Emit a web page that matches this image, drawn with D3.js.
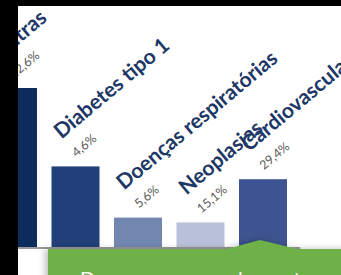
<!DOCTYPE html>
<html>
<head>
<meta charset="utf-8">
<script src="https://cdn.jsdelivr.net/npm/d3@7"></script>
<style>
  body { margin: 0; background: #000; }
  svg { display: block; }
</style>
</head>
<body>
<div id="graph"></div>
<script>
// DATA
var categories = ['Outras', 'Diabetes tipo 1', 'Doenças respiratórias', 'Neoplasias', 'Cardiovasculares']
var values = [100, 51, 19, 16, 43]
var percentLabels = ['12,6%', '4,6%', '5,6%', '15,1%', '29,4%']
var barColors = ['#0c2c5e', '#213f78', '#7287b0', '#b9c1da', '#3e5490']

var W = 341, H = 275
var angle = -40

var svg = d3.select('#graph')
  .append('svg')
  .attr('width', W)
  .attr('height', H)

var defs = svg.append('defs')
defs.append('clipPath').attr('id', 'slide')
  .append('rect').attr('x', 18).attr('y', 6).attr('width', W - 18).attr('height', H - 6)

var shadow = defs.append('filter').attr('id', 'shadow')
  .attr('x', '-10%').attr('y', '-20%').attr('width', '120%').attr('height', '140%')
shadow.append('feDropShadow')
  .attr('dx', -3).attr('dy', 0).attr('stdDeviation', 3)
  .attr('flood-color', '#000').attr('flood-opacity', 0.25)

// WHITE SLIDE, CROPPED BY THE BLACK EDGE
var slide = svg.append('g').attr('clip-path', 'url(#slide)')
slide.append('rect').attr('x', 18).attr('y', 6).attr('width', W).attr('height', H).attr('fill', '#fff')

// SCALES
var x = d3.scaleBand()
  .domain(categories)
  .range([-18.25, 294.25])
  .paddingInner(0.232)
  .paddingOuter(0.116)

var y = d3.scaleLinear()
  .domain([0, 100])
  .range([248, 88])

// BARS
slide.selectAll('rect.bar')
  .data(categories)
  .enter()
  .append('rect')
  .attr('class', 'bar')
  .attr('x', d => x(d))
  .attr('y', (d, i) => y(values[i]))
  .attr('width', x.bandwidth())
  .attr('height', (d, i) => y(0) - y(values[i]))
  .attr('fill', (d, i) => barColors[i])

// BASELINE
slide.append('line')
  .attr('x1', x.range()[0]).attr('x2', x.range()[1] + 6)
  .attr('y1', y(0)).attr('y2', y(0))
  .attr('stroke', '#9a9a9a').attr('stroke-width', 2)

// CATEGORY NAMES (ROTATED)
slide.selectAll('text.name')
  .data(categories)
  .enter()
  .append('text')
  .attr('class', 'name')
  .attr('transform', (d, i) => 'translate(' + (x(d) + 10) + ',' + (y(values[i]) - 27) + ') rotate(' + angle + ')')
  .attr('font-family', 'Lato, "Open Sans", sans-serif')
  .attr('font-weight', 'bold')
  .attr('font-size', 21)
  .attr('fill', '#1d3767')
  .text(d => d)

// PERCENTAGES
slide.selectAll('text.pct')
  .data(categories)
  .enter()
  .append('text')
  .attr('class', 'pct')
  .attr('transform', (d, i) => 'translate(' + (x(d) + 25) + ',' + (y(values[i]) - 9) + ') rotate(' + angle + ')')
  .attr('font-family', 'Lato, "Open Sans", sans-serif')
  .attr('font-size', 12.5)
  .attr('fill', '#595959')
  .text((d, i) => percentLabels[i])

// GREEN CALLOUT WITH ARROW
var bx = 48, by = 249, tipX = 260, tipY = 240
var callout = 'M' + bx + ',' + by +
  ' L227,' + by + ' L' + tipX + ',' + tipY + ' L297,' + by +
  ' L' + (W + 10) + ',' + by + ' L' + (W + 10) + ',' + (H + 20) + ' L' + bx + ',' + (H + 20) + ' Z'
slide.append('path')
  .attr('d', callout)
  .attr('fill', '#6fb04a')
  .attr('filter', 'url(#shadow)')

slide.append('text')
  .attr('x', 80).attr('y', 286)
  .attr('font-family', 'Lato, "Open Sans", sans-serif')
  .attr('font-size', 20)
  .attr('fill', '#fff')
  .text('Doenças e causa de morte')
</script>
</body>
</html>
